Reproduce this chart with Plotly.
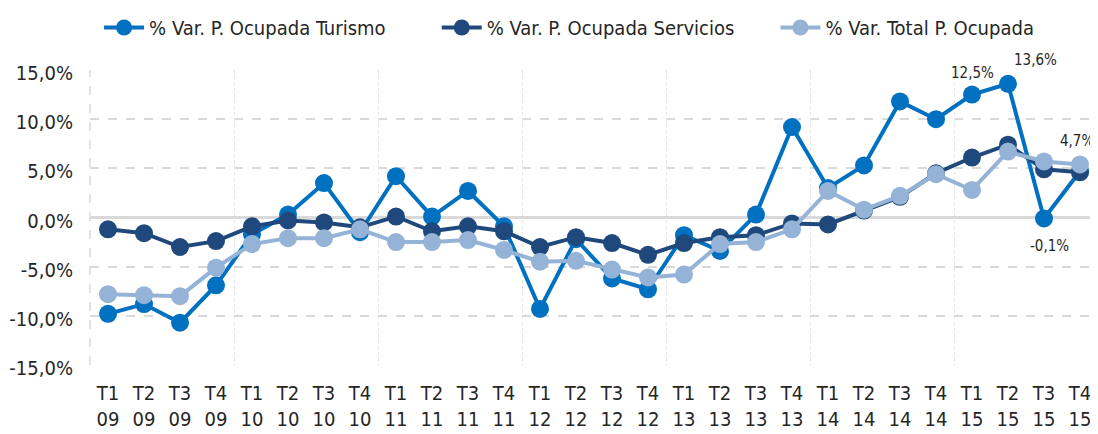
import plotly.graph_objects as go

quarters = ["T1", "T2", "T3", "T4"] * 7
years = ["09"] * 4 + ["10"] * 4 + ["11"] * 4 + ["12"] * 4 + ["13"] * 4 + ["14"] * 4 + ["15"] * 4
tick_labels = [f"{q}<br>{y}" for q, y in zip(quarters, years)]

turismo = [-9.8, -8.8, -10.7, -6.9, -1.7, 0.3, 3.5, -1.5, 4.2, 0.1, 2.7, -0.9,
           -9.3, -2.2, -6.2, -7.3, -1.8, -3.4, 0.3, 9.2, 3.0, 5.3, 11.8, 10.0,
           12.5, 13.6, -0.1, 4.7]
servicios = [-1.2, -1.6, -3.0, -2.4, -0.9, -0.3, -0.5, -1.0, 0.1, -1.4, -0.9, -1.4,
             -3.0, -2.0, -2.6, -3.8, -2.6, -2.0, -1.8, -0.6, -0.7, 0.7, 2.1, 4.5,
             6.1, 7.4, 4.9, 4.6]
total = [-7.8, -7.9, -8.0, -5.1, -2.7, -2.1, -2.1, -1.2, -2.5, -2.5, -2.3, -3.3,
         -4.5, -4.4, -5.3, -6.1, -5.8, -2.7, -2.5, -1.2, 2.7, 0.8, 2.2, 4.4,
         2.8, 6.7, 5.7, 5.4]

names = ["% Var. P. Ocupada Turismo", "% Var. P. Ocupada Servicios", "% Var. Total P. Ocupada"]
colors = ["#0070C0", "#1F497D", "#95B3D7"]
legend_ids = ["legend", "legend2", "legend3"]
legend_x = [0.009, 0.344, 0.680]

labeled_idx = [24, 25, 26, 27]
label_shift = {24: (0, 22), 25: (27, 24), 26: (5, -28), 27: (-3, 30)}

FONT = "DejaVu Sans Condensed, Liberation Sans Narrow, sans-serif"
x = list(range(len(tick_labels)))

fig = go.Figure()
for name, vals, col, lg in zip(names, [turismo, servicios, total], colors, legend_ids):
    fig.add_trace(go.Scatter(
        x=x, y=vals, name=name, mode="lines+markers",
        line=dict(color=col, width=4),
        marker=dict(color=col, size=18),
        cliponaxis=False, legend=lg,
    ))

# boundary gridlines via invisible helper axis
fig.add_trace(go.Scatter(x=[-0.5, 27.5], y=[0, 0], xaxis="x2", mode="none",
                         showlegend=False, hoverinfo="skip"))

annotations = []
for i in labeled_idx:
    dx, dy = label_shift[i]
    annotations.append(dict(
        x=i, y=turismo[i], text=f"{turismo[i]:.1f}%".replace(".", ","),
        showarrow=False, xshift=dx, yshift=dy,
        font=dict(family=FONT, size=15, color="#262626"),
    ))

legends = {}
for lg, lx in zip(legend_ids, legend_x):
    legends[lg] = dict(orientation="h", x=lx, xanchor="left", y=1.0, yanchor="top",
                       yref="container", font=dict(size=20, color="#262626"),
                       itemwidth=40, bgcolor="rgba(0,0,0,0)")

fig.update_layout(
    width=1090, height=426,
    margin=dict(l=82, r=0, t=62, b=69, autoexpand=False),
    paper_bgcolor="white", plot_bgcolor="white",
    separators=",.",
    font=dict(family=FONT, size=20, color="#262626"),
    xaxis=dict(range=[-0.5, 27.5], tickvals=x, ticktext=tick_labels,
               showgrid=False, zeroline=False, showline=False, ticks="",
               tickfont=dict(size=20), ticklabelstandoff=14),
    xaxis2=dict(overlaying="x", range=[-0.5, 27.5], tickvals=[3.5, 7.5, 11.5, 15.5, 19.5, 23.5],
                showgrid=True, gridcolor="#e3e3e3", gridwidth=1, griddash="dot",
                showticklabels=False, zeroline=False, side="bottom"),
    yaxis=dict(range=[-15, 15], tickvals=[-15, -10, -5, 0, 5, 10, 15],
               ticktext=["-15,0%", "-10,0%", "-5,0%", "0,0%", "5,0%", "10,0%", "15,0%"],
               showgrid=True, gridcolor="#d9d9d9", gridwidth=1.5, griddash="dash",
               zeroline=True, zerolinecolor="#d9d9d9", zerolinewidth=2.5,
               showline=False, ticks="", ticklabelstandoff=16, ticklabelshift=3,
               tickfont=dict(size=20)),
    annotations=annotations,
    shapes=[dict(type="line", xref="paper", yref="y", x0=0, x1=0, y0=-15, y1=15,
                 line=dict(color="#d9d9d9", width=1.5, dash="dash"), layer="below")],
    **legends,
)

fig.write_html("out.html")
